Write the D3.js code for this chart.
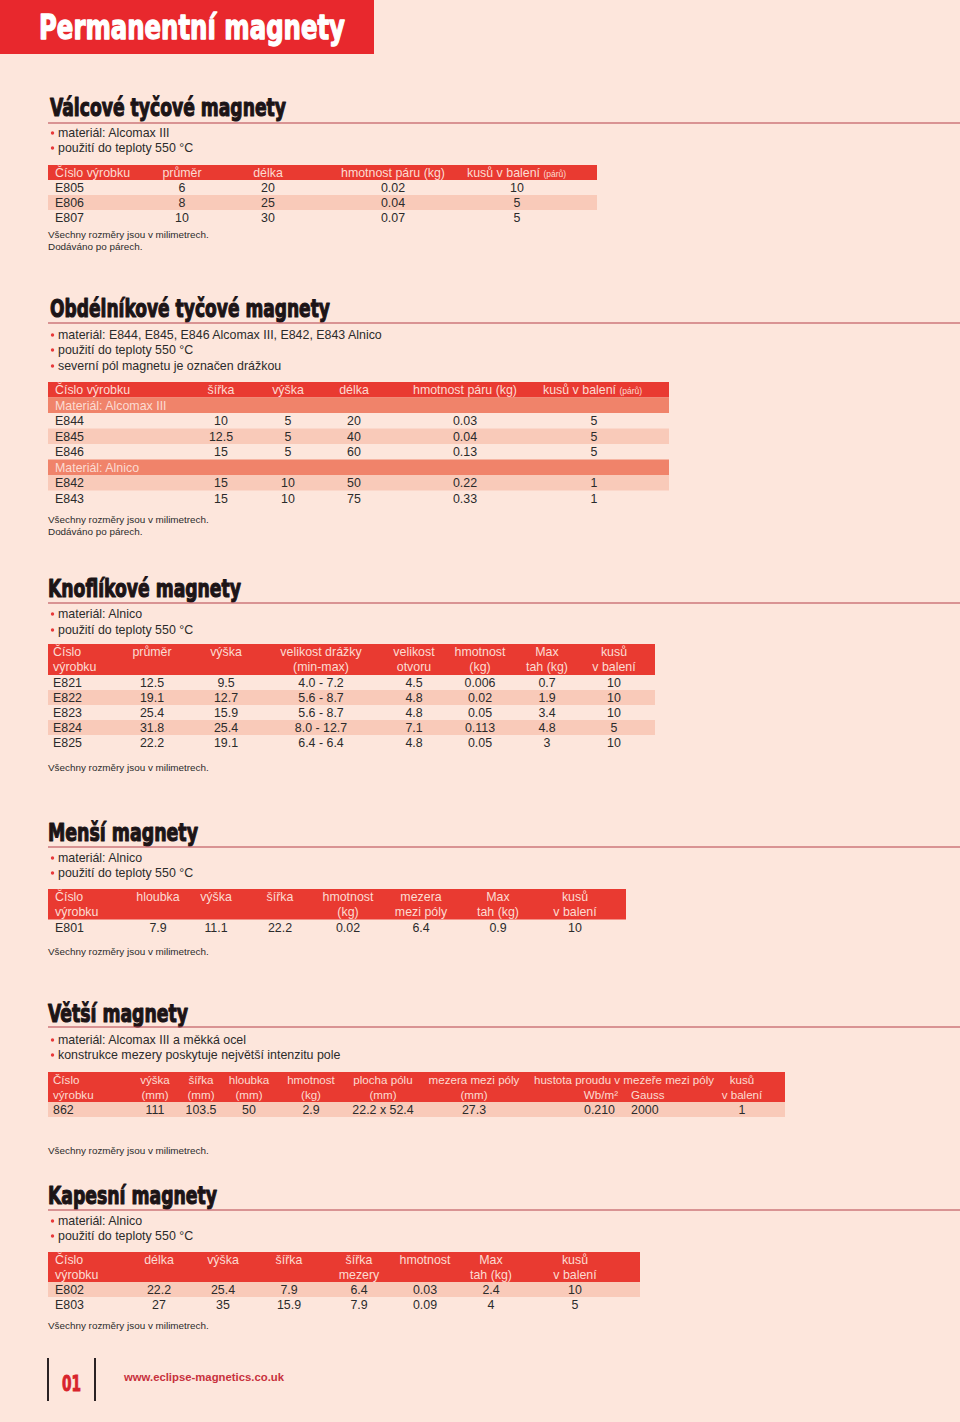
<!DOCTYPE html>
<html><head><meta charset="utf-8">
<script src="https://cdn.jsdelivr.net/npm/d3@7"></script>
<style>html,body{margin:0;padding:0;background:#fde6dc;} svg{display:block;}</style>
</head><body><svg id="c" width="960" height="1422"></svg>
<script>
// ---------- DATA ----------
const pageTitle = "Permanentní magnety";
const sectionTitles = ["Válcové tyčové magnety", "Obdélníkové tyčové magnety", "Knoflíkové magnety", "Menší magnety", "Větší magnety", "Kapesní magnety"];

const valcoveBullets = ["materiál: Alcomax III", "použití do teploty 550 °C"];
const valcoveColumns = ["Číslo výrobku", "průměr", "délka", "hmotnost páru (kg)", "kusů v balení (párů)"];
const valcoveRows = [
  ["E805", "6", "20", "0.02", "10"],
  ["E806", "8", "25", "0.04", "5"],
  ["E807", "10", "30", "0.07", "5"]
];
const valcoveNotes = ["Všechny rozměry jsou v milimetrech.", "Dodáváno po párech."];

const obdBullets = ["materiál: E844, E845, E846 Alcomax III, E842, E843 Alnico", "použití do teploty 550 °C", "severní pól magnetu je označen drážkou"];
const obdColumns = ["Číslo výrobku", "šířka", "výška", "délka", "hmotnost páru (kg)", "kusů v balení (párů)"];
const obdGroups = ["Materiál: Alcomax III", "Materiál: Alnico"];
const obdAlcomaxRows = [
  ["E844", "10", "5", "20", "0.03", "5"],
  ["E845", "12.5", "5", "40", "0.04", "5"],
  ["E846", "15", "5", "60", "0.13", "5"]
];
const obdAlnicoRows = [
  ["E842", "15", "10", "50", "0.22", "1"],
  ["E843", "15", "10", "75", "0.33", "1"]
];
const obdNotes = ["Všechny rozměry jsou v milimetrech.", "Dodáváno po párech."];

const knofBullets = ["materiál: Alnico", "použití do teploty 550 °C"];
const knofColumns = ["Číslo\nvýrobku", "průměr", "výška", "velikost drážky\n(min-max)", "velikost\notvoru", "hmotnost\n(kg)", "Max\ntah (kg)", "kusů\nv balení"];
const knofRows = [
  ["E821", "12.5", "9.5", "4.0 - 7.2", "4.5", "0.006", "0.7", "10"],
  ["E822", "19.1", "12.7", "5.6 - 8.7", "4.8", "0.02", "1.9", "10"],
  ["E823", "25.4", "15.9", "5.6 - 8.7", "4.8", "0.05", "3.4", "10"],
  ["E824", "31.8", "25.4", "8.0 - 12.7", "7.1", "0.113", "4.8", "5"],
  ["E825", "22.2", "19.1", "6.4 - 6.4", "4.8", "0.05", "3", "10"]
];
const knofNotes = ["Všechny rozměry jsou v milimetrech."];

const mensiBullets = ["materiál: Alnico", "použití do teploty 550 °C"];
const mensiColumns = ["Číslo\nvýrobku", "hloubka", "výška", "šířka", "hmotnost\n(kg)", "mezera\nmezi póly", "Max\ntah (kg)", "kusů\nv balení"];
const mensiRows = [
  ["E801", "7.9", "11.1", "22.2", "0.02", "6.4", "0.9", "10"]
];
const mensiNotes = ["Všechny rozměry jsou v milimetrech."];

const vetsiBullets = ["materiál: Alcomax III a měkká ocel", "konstrukce mezery poskytuje největší intenzitu pole"];
const vetsiColumns = ["Číslo\nvýrobku", "výška\n(mm)", "šířka\n(mm)", "hloubka\n(mm)", "hmotnost\n(kg)", "plocha pólu\n(mm)", "mezera mezi póly\n(mm)", "hustota proudu v mezeře mezi póly\nWb/m²", "\nGauss", "kusů\nv balení"];
const vetsiRows = [
  ["862", "111", "103.5", "50", "2.9", "22.2 x 52.4", "27.3", "0.210", "2000", "1"]
];
const vetsiNotes = ["Všechny rozměry jsou v milimetrech."];

const kapesniBullets = ["materiál: Alnico", "použití do teploty 550 °C"];
const kapesniColumns = ["Číslo\nvýrobku", "délka", "výška", "šířka", "šířka\nmezery", "hmotnost", "Max\ntah (kg)", "kusů\nv balení"];
const kapesniRows = [
  ["E802", "22.2", "25.4", "7.9", "6.4", "0.03", "2.4", "10"],
  ["E803", "27", "35", "15.9", "7.9", "0.09", "4", "5"]
];
const kapesniNotes = ["Všechny rozměry jsou v milimetrech."];

const footerPage = "01";
const footerUrl = "www.eclipse-magnetics.co.uk";

// ---------- STYLE / LAYOUT ----------
const C = {
  bg: "#fde6dc", banner: "#e8282d", head: "#e93a31", headText: "#fcdcd2",
  stripe: "#f9cab9", group: "#f0836a", text: "#2b2b2b", rule: "#b5414a",
  bullet: "#e8393a", title: "#1c1416"
};
const BODY = "'Liberation Sans', Arial, Helvetica, sans-serif";
const COND = "'DejaVu Sans Condensed', 'Liberation Sans Narrow', sans-serif";

const svg = d3.select("#c");
svg.append("rect").attr("width", 960).attr("height", 1422).attr("fill", C.bg);

// Banner
svg.append("rect").attr("x", 0).attr("y", 0).attr("width", 374).attr("height", 54).attr("fill", C.banner);
svg.append("text").attr("x", 39).attr("y", 39).text(pageTitle)
  .attr("font-family", COND).attr("font-weight", "bold").attr("font-size", 33)
  .attr("fill", "#ffffff").attr("stroke", "#ffffff").attr("stroke-width", 1.3).attr("stroke-linejoin", "round")
  .attr("textLength", 306).attr("lengthAdjust", "spacingAndGlyphs");

function drawSection(s) {
  const g = svg.append("g");
  g.append("text").attr("x", s.tx).attr("y", s.ty).text(s.title)
    .attr("font-family", COND).attr("font-weight", "bold").attr("font-size", 25)
    .attr("fill", C.title).attr("stroke", C.title).attr("stroke-width", 1.1).attr("stroke-linejoin", "round")
    .attr("textLength", s.tw).attr("lengthAdjust", "spacingAndGlyphs");
  g.append("line").attr("x1", 48).attr("x2", 960).attr("y1", s.ly).attr("y2", s.ly)
    .attr("stroke", C.rule).attr("stroke-width", 1.2);
  const b = g.selectAll("g.b").data(s.bullets).join("g");
  b.append("circle").attr("cx", 52.5).attr("cy", (d, i) => s.by[i] - 4).attr("r", 1.7).attr("fill", C.bullet);
  b.append("text").attr("x", 58).attr("y", (d, i) => s.by[i]).text(d => d)
    .attr("font-family", BODY).attr("font-size", 12.4).attr("fill", C.text);
  g.selectAll("text.note").data(s.notes).join("text").attr("class", "note")
    .attr("x", 48).attr("y", (d, i) => s.ny[i]).text(d => d)
    .attr("font-family", BODY).attr("font-size", 9.9).attr("fill", C.text);
}

function drawTable(t) {
  const g = svg.append("g");
  const n = t.rows.length;
  const hs = t.headSize || 12.4;
  const y = d3.scaleBand().domain(d3.range(n)).range([t.y0 + t.headH, t.y0 + t.headH + n * t.rowH]);
  const x = d3.scaleOrdinal().domain(d3.range(t.cols.length)).range(t.cols.map(c => c.x));
  // header
  g.append("rect").attr("x", t.x0).attr("y", t.y0).attr("width", t.x1 - t.x0).attr("height", t.headH).attr("fill", C.head);
  const twoLine = t.headH > 20;
  t.columns.forEach((h, ci) => {
    const lines = h.split("\n");
    const col = t.cols[ci];
    lines.forEach((ln, li) => {
      if (!ln) return;
      const hl = col.hl ? col.hl[li] : null;
      const base = !twoLine ? t.y0 + t.headH / 2 + 4.5 : t.y0 + 12 + li * 15;
      const tx = g.append("text")
        .attr("x", hl ? hl.x : (col.hx !== undefined ? col.hx : x(ci)))
        .attr("y", base)
        .attr("text-anchor", hl ? hl.a : (col.ha || col.a || "middle"))
        .attr("font-family", BODY).attr("font-size", hs).attr("fill", C.headText);
      if (hl && hl.w) tx.attr("textLength", hl.w).attr("lengthAdjust", "spacingAndGlyphs");
      const m = ln.match(/^(.*?)\s(\(párů\))$/);
      if (m) {
        tx.append("tspan").text(m[1] + " ");
        tx.append("tspan").attr("font-size", 8.5).text(m[2]);
      } else tx.text(ln);
    });
  });
  // rows
  const rg = g.selectAll("g.row").data(t.rows).join("g");
  rg.append("rect").attr("x", t.x0).attr("y", (d, i) => y(i)).attr("width", t.x1 - t.x0).attr("height", y.bandwidth())
    .attr("fill", (d, i) => d.group ? C.group : (t.stripes.includes(i) ? C.stripe : "none"));
  rg.each(function (d, i) {
    const r = d3.select(this);
    const base = y(i) + y.bandwidth() / 2 + 4.5;
    if (d.group) {
      r.append("text").attr("x", t.cols[0].x).attr("y", base).text(d.group)
        .attr("font-family", BODY).attr("font-size", 12.4).attr("fill", C.headText);
      return;
    }
    r.selectAll("text").data(d).join("text")
      .attr("x", (v, ci) => x(ci)).attr("y", base)
      .attr("text-anchor", (v, ci) => t.cols[ci].a || "middle")
      .text(v => v)
      .attr("font-family", BODY).attr("font-size", 12.4).attr("fill", C.text);
  });
}

// Section 1
drawSection({ title: sectionTitles[0], tx: 50, ty: 116, tw: 236, ly: 123, bullets: valcoveBullets, by: [137, 152], notes: valcoveNotes, ny: [238, 250] });
drawTable({ y0: 165, headH: 15, rowH: 15, x0: 48, x1: 597, columns: valcoveColumns, rows: valcoveRows, stripes: [1],
  cols: [{ x: 55, a: "start" }, { x: 182 }, { x: 268 }, { x: 393 }, { x: 517, hx: 467, ha: "start" }] });

// Section 2
drawSection({ title: sectionTitles[1], tx: 50, ty: 317, tw: 280, ly: 323, bullets: obdBullets, by: [339, 354, 370], notes: obdNotes, ny: [523, 535] });
const obdAll = [{ group: obdGroups[0] }, ...obdAlcomaxRows, { group: obdGroups[1] }, ...obdAlnicoRows];
drawTable({ y0: 382, headH: 15.5, rowH: 15.5, x0: 48, x1: 669, columns: obdColumns, rows: obdAll, stripes: [2, 5],
  cols: [{ x: 55, a: "start" }, { x: 221 }, { x: 288 }, { x: 354 }, { x: 465 }, { x: 594, hx: 543, ha: "start" }] });

// Section 3
drawSection({ title: sectionTitles[2], tx: 48, ty: 597, tw: 193, ly: 603, bullets: knofBullets, by: [618, 634], notes: knofNotes, ny: [771] });
drawTable({ y0: 644, headH: 31, rowH: 15, x0: 48, x1: 655, columns: knofColumns, rows: knofRows, stripes: [1, 3],
  cols: [{ x: 53, a: "start" }, { x: 152 }, { x: 226 }, { x: 321 }, { x: 414 }, { x: 480 }, { x: 547 }, { x: 614 }] });

// Section 4
drawSection({ title: sectionTitles[3], tx: 48, ty: 841, tw: 150, ly: 847, bullets: mensiBullets, by: [862, 877], notes: mensiNotes, ny: [955] });
drawTable({ y0: 889, headH: 30.5, rowH: 15, x0: 48, x1: 626, columns: mensiColumns, rows: mensiRows, stripes: [],
  cols: [{ x: 55, a: "start" }, { x: 158 }, { x: 216 }, { x: 280 }, { x: 348 }, { x: 421 }, { x: 498 }, { x: 575 }] });

// Section 5
drawSection({ title: sectionTitles[4], tx: 48, ty: 1022, tw: 140, ly: 1027, bullets: vetsiBullets, by: [1044, 1059], notes: vetsiNotes, ny: [1154] });
drawTable({ y0: 1072, headH: 30, rowH: 15, x0: 48, x1: 785, headSize: 11.6, columns: vetsiColumns, rows: vetsiRows, stripes: [0],
  cols: [{ x: 53, a: "start" }, { x: 155 }, { x: 201 }, { x: 249 }, { x: 311 }, { x: 383 }, { x: 474 },
    { x: 615, a: "end", hl: [{ x: 534, a: "start", w: 180 }, { x: 618, a: "end" }] }, { x: 631, a: "start" }, { x: 742 }] });

// Section 6
drawSection({ title: sectionTitles[5], tx: 48, ty: 1204, tw: 169, ly: 1210, bullets: kapesniBullets, by: [1225, 1240], notes: kapesniNotes, ny: [1329] });
drawTable({ y0: 1252, headH: 30, rowH: 15, x0: 48, x1: 640, columns: kapesniColumns, rows: kapesniRows, stripes: [0],
  cols: [{ x: 55, a: "start" }, { x: 159 }, { x: 223 }, { x: 289 }, { x: 359 }, { x: 425 }, { x: 491 }, { x: 575 }] });

// Footer
const fg = svg.append("g");
[48, 95].forEach(xx => fg.append("line").attr("x1", xx).attr("x2", xx).attr("y1", 1358).attr("y2", 1401)
  .attr("stroke", "#2a2224").attr("stroke-width", 2));
fg.append("text").attr("x", 62).attr("y", 1391).text(footerPage)
  .attr("font-family", COND).attr("font-weight", "bold").attr("font-size", 22)
  .attr("fill", "#d8232c").attr("stroke", "#d8232c").attr("stroke-width", 0.9)
  .attr("textLength", 19).attr("lengthAdjust", "spacingAndGlyphs");
fg.append("text").attr("x", 124).attr("y", 1381).text(footerUrl)
  .attr("font-family", BODY).attr("font-weight", "bold").attr("font-size", 11)
  .attr("fill", "#c8313d").attr("textLength", 160).attr("lengthAdjust", "spacingAndGlyphs");
</script></body></html>
